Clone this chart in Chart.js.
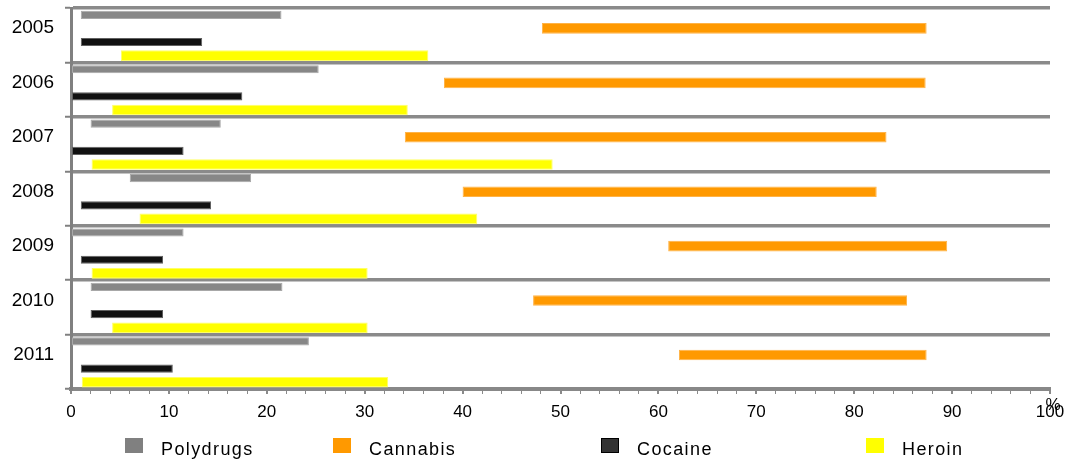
<!DOCTYPE html>
<html>
<head>
<meta charset="utf-8">
<script src="https://cdn.jsdelivr.net/npm/chart.js@4"></script>
<style>
body{margin:0;background:#fff;}
#wrap{width:1071px;height:461px;position:relative;}
</style>
</head>
<body>
<div id="wrap"><canvas id="chart"></canvas></div>
<script>

/* DATA */

let years = ["2005","2006","2007","2008","2009","2010","2011"];

let seriesNames = ["Polydrugs","Cannabis","Cocaine","Heroin"];

// each value is a [from, to] range in %
let polydrugs = [[1,21.5],[0,25.3],[2,15.3],[6,18.4],[0,11.5],[2,21.6],[0,24.3]];
let cannabis  = [[48.1,87.4],[38.1,87.3],[34.1,83.3],[40,82.3],[61,89.5],[47.2,85.4],[62.1,87.4]];
let cocaine   = [[1,13.4],[0,17.5],[0,11.5],[1,14.3],[1,9.4],[2,9.4],[1,10.4]];
let heroin    = [[5.1,36.5],[4.2,34.4],[2.1,49.2],[7,41.5],[2.1,30.3],[4.2,30.3],[1.1,32.4]];

let xTicks = [0,10,20,30,40,50,60,70,80,90,100];


/* LEGEND + % SIGN */

let legendX = [125,333,601,866];

let customLegend = {
id:"customLegend",
afterDraw(chart){
let ctx = chart.ctx;
ctx.save();
chart.data.datasets.forEach((ds,i)=>{
let x = legendX[i];
ctx.fillStyle = ds.legendColor;
ctx.fillRect(x,438,18,15);
if(ds.legendBorder){
ctx.strokeStyle = ds.legendBorder;
ctx.lineWidth = 1;
ctx.strokeRect(x+0.5,438.5,17,14);
}
ctx.fillStyle = "#000";
ctx.font = "18px 'Liberation Sans', Arial, sans-serif";
ctx.letterSpacing = "1.4px";
ctx.textBaseline = "alphabetic";
ctx.textAlign = "left";
ctx.fillText(ds.label,x+36,455);
});
ctx.letterSpacing = "0px";
ctx.font = "17px 'Liberation Sans', Arial, sans-serif";
ctx.textAlign = "center";
ctx.fillText("%",1053,410);
ctx.restore();
}
};


/* CHART */

let ctx = document.getElementById("chart").getContext("2d");

new Chart(ctx,{
type:"bar",
data:{
labels:years,
datasets:[
{label:seriesNames[0],data:polydrugs,backgroundColor:"#878787",borderColor:"#a8a8a8",borderWidth:1,borderSkipped:false,barPercentage:0.6,legendColor:"#808080"},
{label:seriesNames[1],data:cannabis,backgroundColor:"#ff9900",borderColor:"#ffb347",borderWidth:1,borderSkipped:false,barPercentage:0.78,legendColor:"#ff9900"},
{label:seriesNames[2],data:cocaine,backgroundColor:"#111111",borderColor:"#606060",borderWidth:1,borderSkipped:false,barPercentage:0.6,legendColor:"#333333",legendBorder:"#000"},
{label:seriesNames[3],data:heroin,backgroundColor:"#ffff00",borderColor:"#ffff66",borderWidth:1,borderSkipped:false,barPercentage:0.78,legendColor:"#ffff00"}
]
},
options:{
indexAxis:"y",
responsive:true,
maintainAspectRatio:false,
animation:false,
layout:{padding:{top:8,right:21,left:0,bottom:0}},
datasets:{bar:{categoryPercentage:1}},
plugins:{
legend:{display:false},
tooltip:{enabled:false}
},
scales:{
x:{
min:0,
max:100,
afterFit(scale){ scale.height = 72; scale.paddingLeft = 0; scale.paddingRight = 0; },
afterBuildTicks(scale){
let t = [];
for(let v=0; v<=100; v+=2) t.push({value:v});
scale.ticks = t;
},
ticks:{
autoSkip:false,
maxRotation:0,
padding:8,
color:"#000",
font:{family:"'Liberation Sans', Arial, sans-serif",size:17},
callback:(v)=> xTicks.includes(v) ? String(v) : ""
},
grid:{
drawOnChartArea:false,
drawTicks:true,
tickLength:5,
color:"#8a8a8a",
lineWidth:(c)=> (c.tick && c.tick.value % 10 === 0) ? 2 : 1
},
border:{display:true,color:"#888888",width:4}
},
y:{
afterFit(scale){ scale.width = 71; scale.paddingTop = 0; scale.paddingBottom = 0; },
ticks:{
color:"#000",
padding:11,
labelOffset:-7,
font:{family:"'Liberation Sans', Arial, sans-serif",size:19}
},
grid:{
offset:true,
color:"#8a8a8a",
lineWidth:3.5,
tickLength:6,
tickWidth:2,
tickColor:"#808080"
},
border:{display:true,color:"#808080",width:3}
}
}
},
plugins:[customLegend]
});

</script>
</body>
</html>
